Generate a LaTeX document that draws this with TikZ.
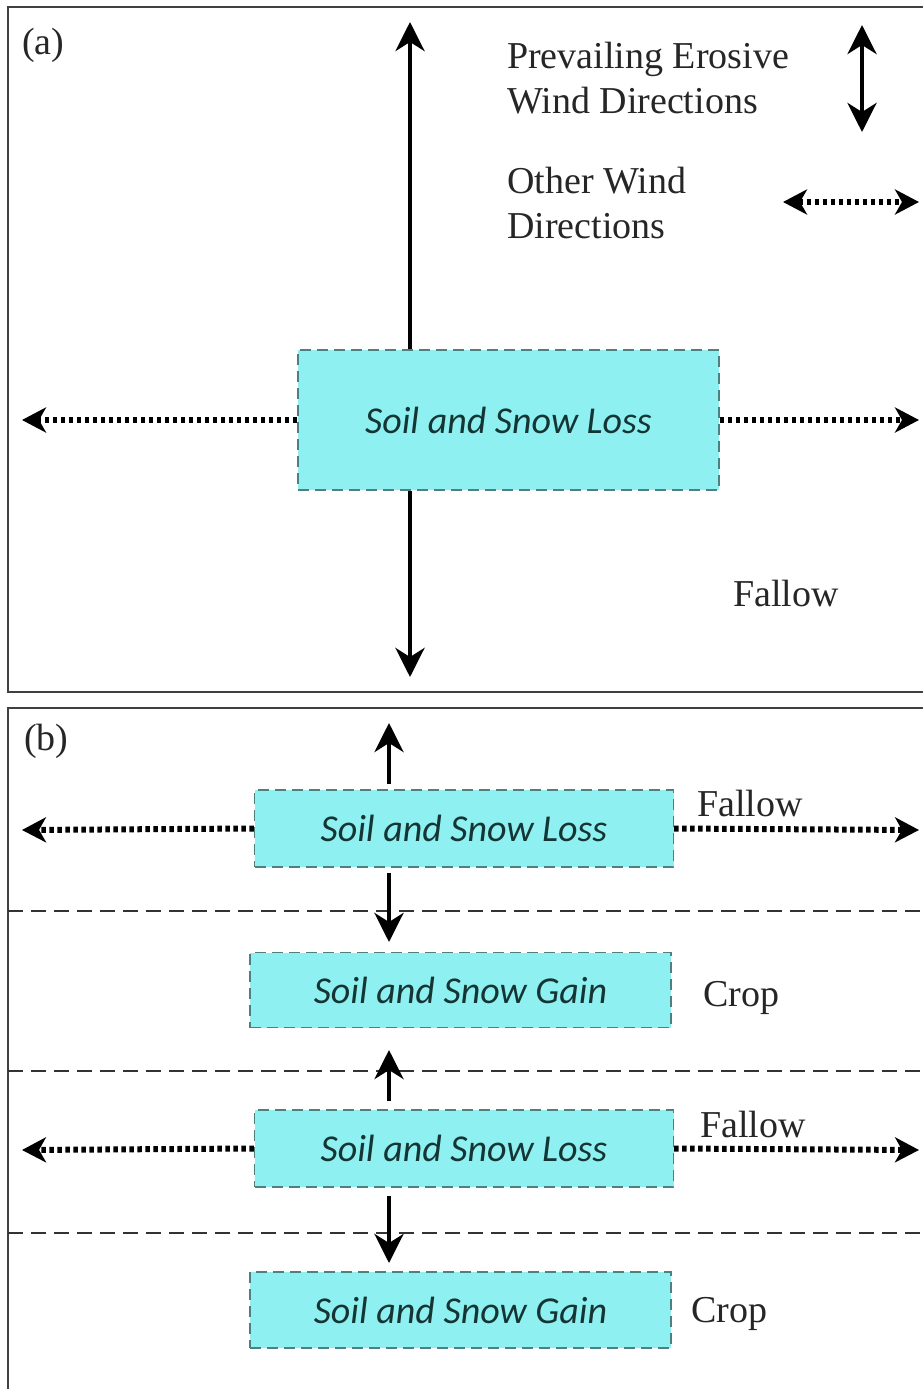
\documentclass[tikz,border=0pt]{standalone}
\usepackage{fontspec}
\setmainfont{Liberation Serif}
\newfontfamily\boxfont{Carlito}
\usetikzlibrary{arrows.meta}
\definecolor{boxfill}{HTML}{8EF0F0}
\definecolor{boxline}{HTML}{4F8080}
\definecolor{boxtext}{HTML}{153535}
\begin{document}
\begin{tikzpicture}[x=1pt,y=-1pt,
  frame/.style={draw=black!75, line width=2pt},
  zone/.style={draw=boxline, fill=boxfill, dash pattern=on 11pt off 6pt, line width=1.4pt, inner sep=0pt,
    font=\boxfont\itshape\fontsize{38}{44}\selectfont, text=boxtext},
  lbl/.style={font=\fontsize{38}{45}\selectfont, anchor=base west, inner sep=0pt, text=black!85},
  prevail/.style={line width=4.5pt, -{Stealth[length=29pt,width=29pt,inset=9pt]}},
  prevailboth/.style={line width=4.5pt, {Stealth[length=29pt,width=29pt,inset=9pt]}-{Stealth[length=29pt,width=29pt,inset=9pt]}},
  other/.style={line width=6pt, dash pattern=on 4.5pt off 3.5pt, -{Stealth[length=24pt,width=25pt,inset=7pt]}},
  otherboth/.style={line width=6pt, dash pattern=on 4.5pt off 3.5pt, {Stealth[length=24pt,width=25pt,inset=7pt]}-{Stealth[length=24pt,width=25pt,inset=7pt]}},
  sep/.style={line width=1.5pt, dash pattern=on 15pt off 8pt, draw=black!80}
]
\useasboundingbox (0,0) rectangle (923,1389);
\clip (0,0) rectangle (923,1389);

% frames
\draw[frame] (8,7) rectangle (940,692);
\draw[frame] (8,708) rectangle (940,1400);

% ---------- panel (a) ----------
\node[lbl] (la) at (22,55) {(a)};
\node[zone, minimum width=421pt, minimum height=140pt] (A) at (508.5,420) {Soil and Snow Loss};
\coordinate (Atop) at (410,22);
\coordinate (Abot) at (410,677);
\coordinate (Aleft) at (22,420);
\coordinate (Aright) at (919,420);
\draw[prevail] (A.north -| Atop) -- (Atop);
\draw[prevail] (A.south -| Abot) -- (Abot);
\draw[other] (A.west) -- (Aleft);
\draw[other] (A.east) -- (Aright);

% legend
\node[lbl] (lg1) at (507,68) {Prevailing Erosive};
\node[lbl] (lg2) at (507,113) {Wind Directions};
\node[lbl] (lg3) at (507,193) {Other Wind};
\node[lbl] (lg4) at (507,238) {Directions};
\coordinate (P1) at (862,25);
\coordinate (P2) at (862,132);
\draw[prevailboth] (P1) -- (P2);
\coordinate (O1) at (783,202);
\coordinate (O2) at (919,202);
\draw[otherboth] (O1) -- (O2);
\node[lbl] (fa) at (733,606) {Fallow};

% ---------- panel (b) ----------
\node[lbl] (lb) at (24,750) {(b)};

\coordinate (S1l) at (8,911);  \coordinate (S1r) at (940,911);
\coordinate (S2l) at (8,1071); \coordinate (S2r) at (940,1071);
\coordinate (S3l) at (8,1233); \coordinate (S3r) at (940,1233);
\draw[sep] (S1l) -- (S1r);
\draw[sep] (S2l) -- (S2r);
\draw[sep] (S3l) -- (S3r);

\node[zone, minimum width=419pt, minimum height=77pt] (B1) at (464,828.5) {Soil and Snow Loss};
\node[zone, minimum width=421pt, minimum height=75pt] (B2) at (460.5,990) {Soil and Snow Gain};
\node[zone, minimum width=419pt, minimum height=77pt] (B3) at (464,1148.5) {Soil and Snow Loss};
\node[zone, minimum width=421pt, minimum height=76pt] (B4) at (460.5,1310) {Soil and Snow Gain};

\node[lbl] (f1) at (697,816) {Fallow};
\node[lbl] (c1) at (703,1006) {Crop};
\node[lbl] (f2) at (700,1137) {Fallow};
\node[lbl] (c2) at (691,1322) {Crop};

\coordinate (T1) at (389,723);
\coordinate (T2) at (389,942);
\coordinate (T3) at (389,1050);
\coordinate (T4) at (389,1263);
\draw[prevail, shorten <=5pt] (B1.north -| T1) -- (T1);
\draw[prevail, shorten <=5pt] (B1.south -| T2) -- (T2);
\draw[prevail, shorten <=8pt] (B3.north -| T3) -- (T3);
\draw[prevail, shorten <=8pt] (B3.south -| T4) -- (T4);

\coordinate (D1l) at (22,830);  \coordinate (D1r) at (919,830);
\coordinate (D3l) at (22,1150); \coordinate (D3r) at (919,1150);
\draw[other] (B1.west) -- (D1l);
\draw[other] (B1.east) -- (D1r);
\draw[other] (B3.west) -- (D3l);
\draw[other] (B3.east) -- (D3r);
\end{tikzpicture}
\end{document}
